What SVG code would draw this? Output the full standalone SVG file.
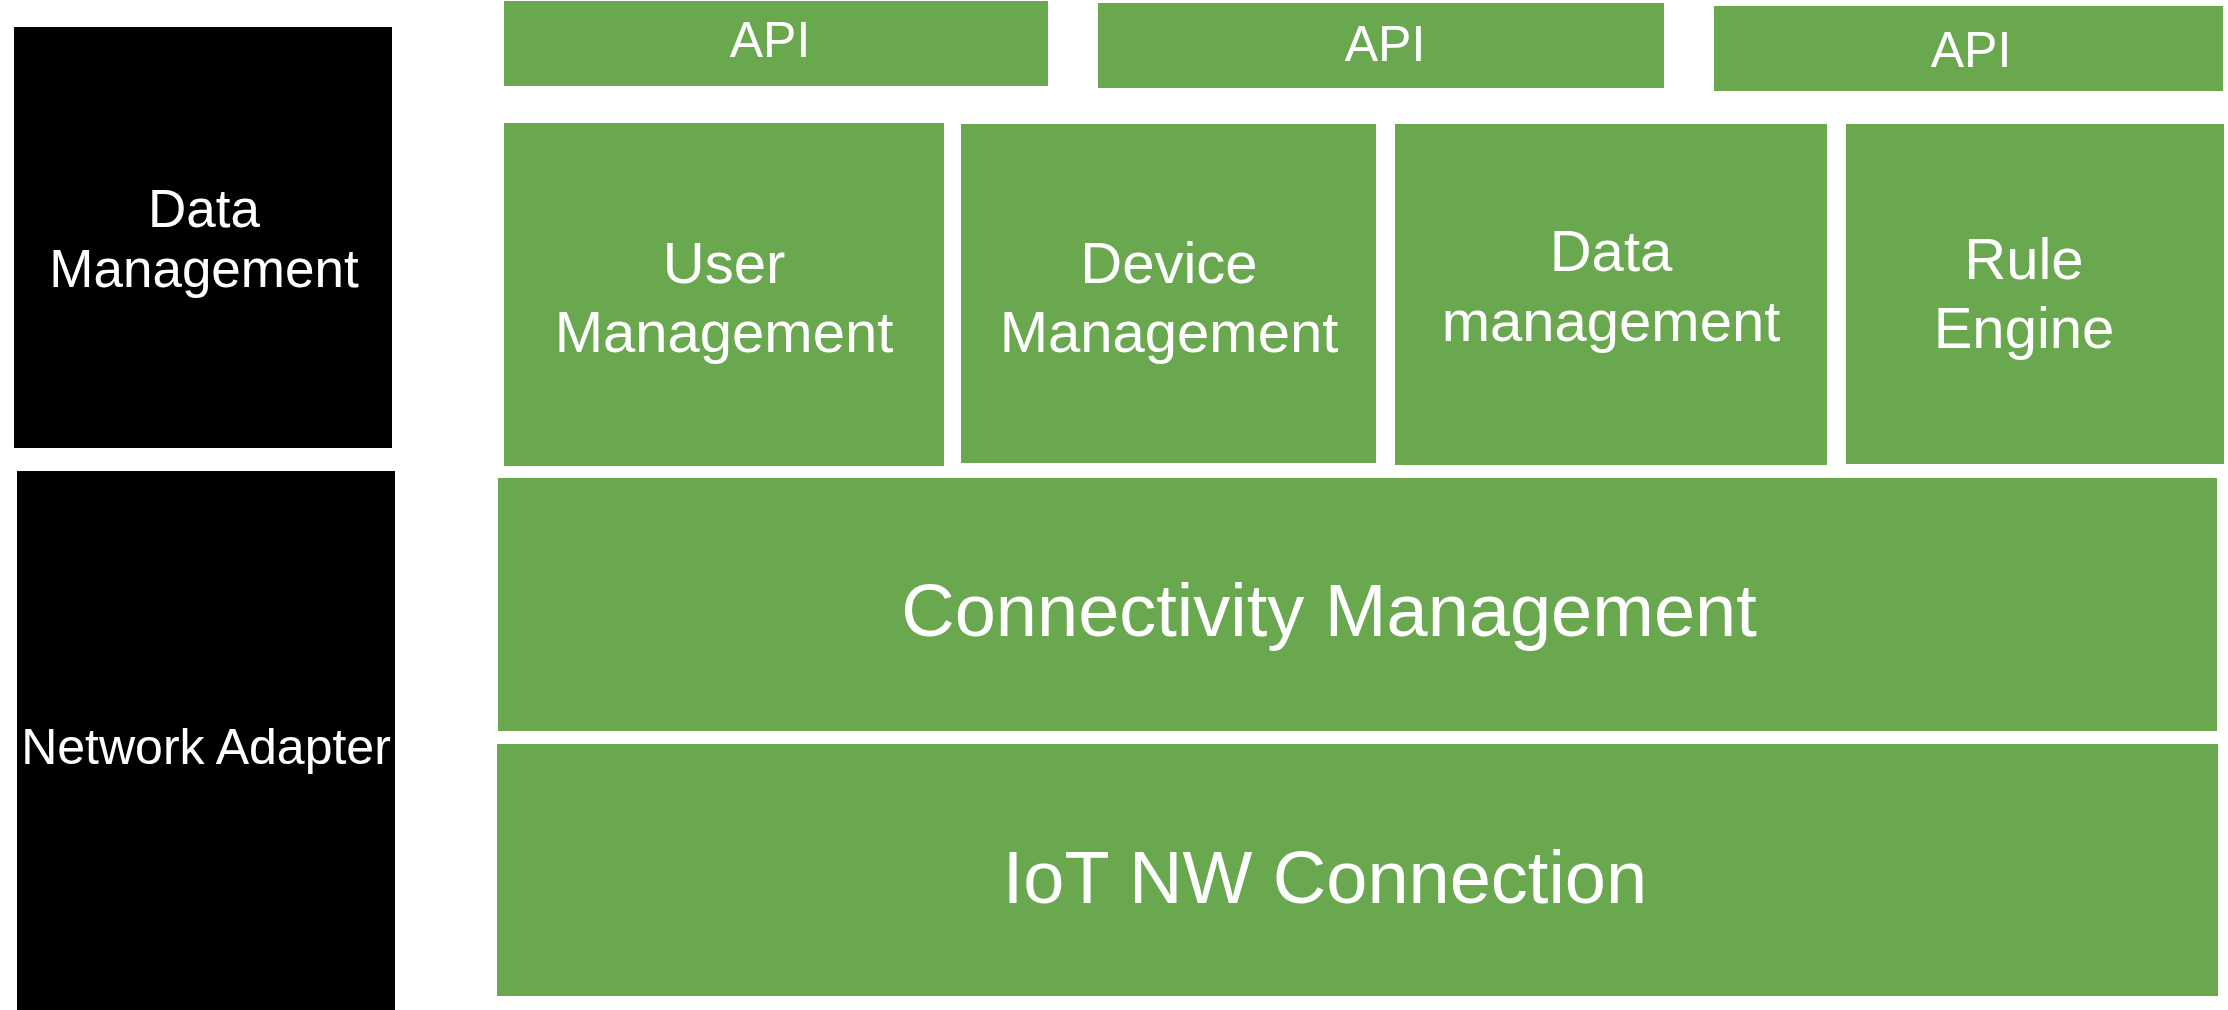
<svg xmlns="http://www.w3.org/2000/svg" width="2228" height="1010" viewBox="0 0 2228 1010">
  <style>
    .side { fill: #000000; }
    .block { fill: #6AA84F; }
    text { fill: #FFFFFF; font-family: "Liberation Sans", Arial, sans-serif; text-anchor: middle; }
    .api { font-size: 50px; }
    .side-label { font-size: 53px; }
    .net-label { font-size: 50px; }
    .module { font-size: 58px; }
    .layer { font-size: 74px; }
  </style>

  <!-- left-hand legend column -->
  <g id="data-management-side">
    <rect class="side" x="14" y="27" width="378" height="421"/>
    <text class="side-label" x="204" y="227">Data</text>
    <text class="side-label" x="204" y="287">Management</text>
  </g>
  <g id="network-adapter-side">
    <rect class="side" x="17" y="471" width="378" height="539"/>
    <text class="net-label" x="206" y="764">Network Adapter</text>
  </g>

  <!-- API row -->
  <g id="api-1">
    <rect class="block" x="504" y="1" width="544" height="85"/>
    <text class="api" x="770" y="57">API</text>
  </g>
  <g id="api-2">
    <rect class="block" x="1098" y="3" width="566" height="85"/>
    <text class="api" x="1385" y="61">API</text>
  </g>
  <g id="api-3">
    <rect class="block" x="1714" y="6" width="509" height="85"/>
    <text class="api" x="1971" y="67">API</text>
  </g>

  <!-- platform modules -->
  <g id="user-management">
    <rect class="block" x="504" y="123" width="440" height="343"/>
    <text class="module" x="724" y="283">User</text>
    <text class="module" x="724" y="352">Management</text>
  </g>
  <g id="device-management">
    <rect class="block" x="961" y="124" width="415" height="339"/>
    <text class="module" x="1169" y="283">Device</text>
    <text class="module" x="1169" y="352">Management</text>
  </g>
  <g id="data-management">
    <rect class="block" x="1395" y="124" width="432" height="341"/>
    <text class="module" x="1611" y="271">Data</text>
    <text class="module" x="1611" y="341">management</text>
  </g>
  <g id="rule-engine">
    <rect class="block" x="1846" y="124" width="378" height="340"/>
    <text class="module" x="2024" y="279">Rule</text>
    <text class="module" x="2024" y="348">Engine</text>
  </g>

  <!-- lower layers -->
  <g id="connectivity-management">
    <rect class="block" x="498" y="478" width="1719" height="253"/>
    <text class="layer" x="1329" y="636">Connectivity Management</text>
  </g>
  <g id="iot-nw-connection">
    <rect class="block" x="497" y="744" width="1721" height="252"/>
    <text class="layer" x="1325" y="903">IoT NW Connection</text>
  </g>

  <g id="connectors"></g>
</svg>
